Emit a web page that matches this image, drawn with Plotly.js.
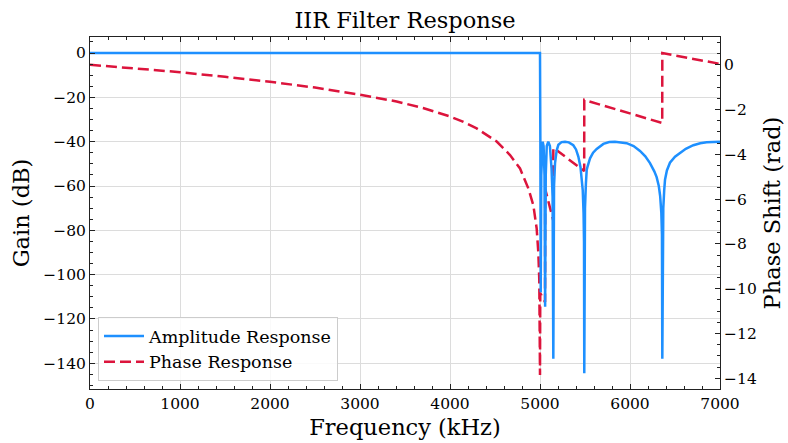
<!DOCTYPE html>
<html>
<head>
<meta charset="utf-8">
<script src="https://cdn.plot.ly/plotly-3.0.1.min.js"></script>
<style>html,body{margin:0;padding:0;background:#fff;}#chart{width:788px;height:443px;}</style>
</head>
<body>
<div id="chart"></div>
<script>
// Amplitude response (kHz, dB)
const ampFreq = [0, 1000, 2000, 3000, 4000, 4500, 4900, 4990, 5000,
  5004, 5008, 5014, 5022, 5030, 5040, 5050, 5057, 5064, 5075, 5092, 5110, 5128, 5140, 5148,
  5156, 5167, 5185, 5204, 5240, 5278, 5320, 5370, 5400, 5426, 5450, 5463, 5475, 5484, 5489, 5492,
  5495, 5500, 5510, 5519, 5530, 5556, 5590, 5630, 5704, 5770, 5833, 5900, 5963, 6040, 6111, 6170,
  6222, 6270, 6296, 6320, 6335, 6348, 6355, 6359, 6363, 6370, 6380, 6389, 6410, 6444, 6500, 6556,
  6620, 6704, 6780, 6852, 6930, 7000];
const ampGain = [0, 0, 0, 0, 0, 0, 0, 0, 0,
  -40, -108, -55, -42, -40, -42, -55, -114.5, -55, -42, -40, -42, -52, -65, -138,
  -60, -49.7, -44, -41.4, -40.2, -40, -40.3, -41.6, -43.5, -46.7, -51.5, -55.7, -62, -72, -85, -144.5,
  -85, -70, -59, -52.7, -51, -47.5, -45, -43.3, -41, -40.2, -40, -40.2, -40.7, -42, -44.2, -46.6,
  -49.7, -53.4, -56, -60, -64.5, -72, -82, -138, -82, -70, -62, -57.2, -53, -49.5, -46.8, -45,
  -43.2, -41.6, -40.7, -40.3, -40.05, -40];

// Phase response (kHz, rad)
const phaseFreq = [0, 500, 1000, 1500, 2000, 2500, 3000, 3407, 3700, 4000, 4150, 4296, 4519, 4667,
  4778, 4870, 4926, 4963, 4981, 4992, 4998, 5000, 5003, 5030, 5056, 5058, 5130, 5147, 5148,
  5444, 5491, 5492, 6358, 6359, 7000];
const phaseRad = [0, -0.15, -0.33, -0.54, -0.76, -1.02, -1.34, -1.64, -1.93, -2.31, -2.55, -2.84, -3.43, -4.03,
  -4.63, -5.52, -6.27, -7.31, -8.36, -9.6, -11.5, -13.85, -10.2, -10.4, -10.6, -5.55, -6.8, -6.95, -3.7,
  -4.63, -4.75, -1.57, -2.6, 0.52, 0.04];

const titleText = 'IIR Filter Response';
const xTitle = 'Frequency (kHz)';
const yLeftTitle = 'Gain (dB)';
const yRightTitle = 'Phase Shift (rad)';
const ampName = 'Amplitude Response';
const phaseName = 'Phase Response';

const FONT = 'DejaVu Serif, Liberation Serif, serif';
const AX = '#222';

const traces = [
  {x: phaseFreq, y: phaseRad, name: phaseName, type: 'scatter', mode: 'lines',
   xaxis: 'x', yaxis: 'y', legendrank: 2,
   line: {color: '#DC143C', width: 2.5, dash: '11px,5px'}},
  {x: ampFreq, y: ampGain, name: ampName, type: 'scatter', mode: 'lines',
   xaxis: 'x', yaxis: 'y2', legendrank: 1,
   line: {color: '#1E90FF', width: 2.5}}
];

const layout = {
  width: 788, height: 443,
  margin: {l: 90, r: 68, t: 37, b: 54},
  paper_bgcolor: '#fff', plot_bgcolor: '#fff',
  font: {family: FONT, color: '#000', size: 15.5},
  title: {text: titleText, font: {family: FONT, size: 22.5, color: '#000'},
          x: 0.5, xref: 'paper', xanchor: 'center', y: 0.955, yref: 'container', yanchor: 'middle'},
  showlegend: true,
  legend: {x: 0.0127, y: 0.0227, xanchor: 'left', yanchor: 'bottom', itemwidth: 40,
           bgcolor: 'rgba(255,255,255,0.85)', bordercolor: '#cccccc', borderwidth: 1,
           font: {family: FONT, size: 17.5, color: '#000'}},
  xaxis: {range: [0, 7000], dtick: 1000, tick0: 0, ticks: 'inside', ticklen: 5, tickwidth: 1, tickcolor: AX,
          minor: {dtick: 200, tick0: 0, ticks: 'inside', ticklen: 3, tickwidth: 1, tickcolor: AX, showgrid: false},
          showline: true, linecolor: AX, linewidth: 1, mirror: 'ticks',
          showgrid: true, gridcolor: '#dcdcdc', gridwidth: 1, zeroline: false,
          tickfont: {family: FONT, size: 15.5, color: '#000'},
          title: {text: xTitle, font: {family: FONT, size: 22.5, color: '#000'}, standoff: 7}},
  yaxis: {range: [-14.48, 1.24], side: 'right', dtick: 2, tick0: 0, ticks: 'inside', ticklen: 5, tickwidth: 1, tickcolor: AX,
          minor: {dtick: 0.5, tick0: 0, ticks: 'inside', ticklen: 3, tickwidth: 1, tickcolor: AX, showgrid: false},
          showline: true, linecolor: AX, linewidth: 1, showgrid: false, zeroline: false,
          tickfont: {family: FONT, size: 15.5, color: '#000'},
          title: {text: yRightTitle, font: {family: FONT, size: 22.5, color: '#000'}, standoff: 8}},
  yaxis2: {range: [-151.6, 7.23], overlaying: 'y', side: 'left', dtick: 20, tick0: 0, ticks: 'inside', ticklen: 5, tickwidth: 1, tickcolor: AX,
          minor: {dtick: 5, tick0: 0, ticks: 'inside', ticklen: 3, tickwidth: 1, tickcolor: AX, showgrid: false},
          showline: true, linecolor: AX, linewidth: 1,
          showgrid: true, gridcolor: '#dcdcdc', gridwidth: 1, zeroline: false,
          tickfont: {family: FONT, size: 15.5, color: '#000'},
          title: {text: yLeftTitle, font: {family: FONT, size: 22.5, color: '#000'}, standoff: 7}}
};

Plotly.newPlot('chart', traces, layout, {displayModeBar: false, staticPlot: true});
</script>
</body>
</html>
